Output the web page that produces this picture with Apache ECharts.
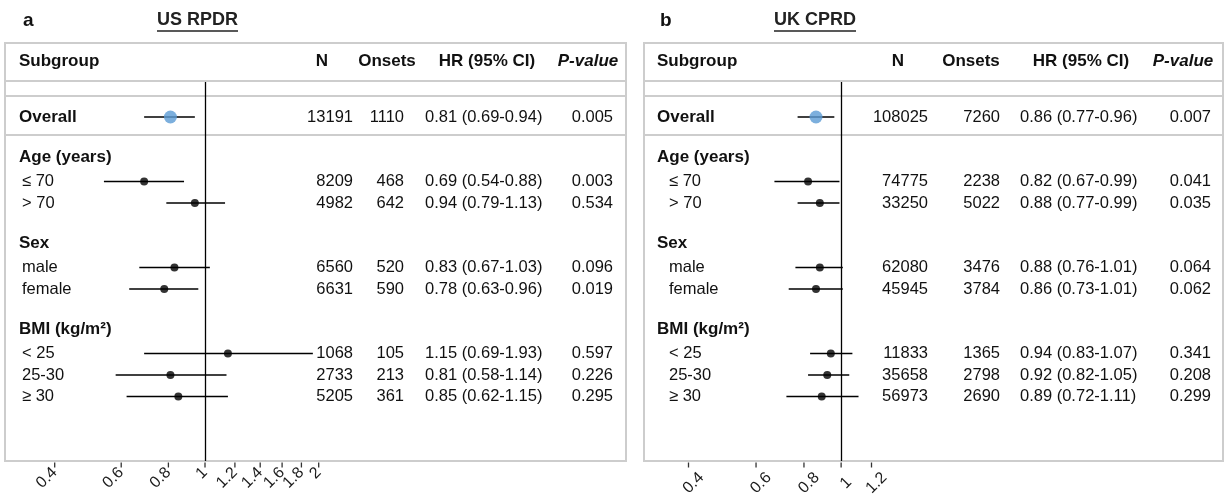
<!DOCTYPE html>
<html><head><meta charset="utf-8">
<script src="https://cdn.jsdelivr.net/npm/echarts@6/dist/echarts.min.js"></script>
<style>html,body{margin:0;padding:0;background:#fff}#c{width:1225px;height:497px}</style>
</head><body><div id="c"></div>
<script>
// ---------------- data ----------------
const subgroupLabels = ['Overall', '≤ 70', '> 70', 'male', 'female', '< 25', '25-30', '≥ 30'];
const subgroupGroup  = ['', 'Age (years)', 'Age (years)', 'Sex', 'Sex', 'BMI (kg/m²)', 'BMI (kg/m²)', 'BMI (kg/m²)'];
const columnHeaders  = ['Subgroup', 'N', 'Onsets', 'HR (95% CI)', 'P-value'];

const usTag = 'a';
const usTitle = 'US RPDR';
const usN      = [13191, 8209, 4982, 6560, 6631, 1068, 2733, 5205];
const usOnsets = [1110, 468, 642, 520, 590, 105, 213, 361];
const usHR     = [0.81, 0.69, 0.94, 0.83, 0.78, 1.15, 0.81, 0.85];
const usLo     = [0.69, 0.54, 0.79, 0.67, 0.63, 0.69, 0.58, 0.62];
const usHi     = [0.94, 0.88, 1.13, 1.03, 0.96, 1.93, 1.14, 1.15];
const usP      = ['0.005', '0.003', '0.534', '0.096', '0.019', '0.597', '0.226', '0.295'];
const usTicks  = [0.4, 0.6, 0.8, 1, 1.2, 1.4, 1.6, 1.8, 2];

const ukTag = 'b';
const ukTitle = 'UK CPRD';
const ukN      = [108025, 74775, 33250, 62080, 45945, 11833, 35658, 56973];
const ukOnsets = [7260, 2238, 5022, 3476, 3784, 1365, 2798, 2690];
const ukHR     = [0.86, 0.82, 0.88, 0.88, 0.86, 0.94, 0.92, 0.89];
const ukLo     = [0.77, 0.67, 0.77, 0.76, 0.73, 0.83, 0.82, 0.72];
const ukHi     = [0.96, 0.99, 0.99, 1.01, 1.01, 1.07, 1.05, 1.11];
const ukP      = ['0.007', '0.041', '0.035', '0.064', '0.062', '0.341', '0.208', '0.299'];
const ukTicks  = [0.4, 0.6, 0.8, 1, 1.2];

const refValue = 1;

// ---------------- layout / style ----------------
const FONT = "'Liberation Sans', Arial, Helvetica, sans-serif";
const TXT = '#111';
const GRID_LINE = '#cdcdcd';
const ROW_TOP = 106.25, ROW_H = 21.5, NROWS = 16, REF_TOP = 82;
const SEP_Y = [81, 96, 135];

const panels = [
  { tag: usTag, title: usTitle, N: usN, onsets: usOnsets, hr: usHR, lo: usLo, hi: usHi, p: usP,
    ticks: usTicks, min: 0.4, max: 2,
    box: {x: 5, y: 43, w: 621, h: 418}, tagX: 23, titleX: 157,
    forest: {left: 54.7, width: 264},
    cols: {label: 19, sub: 22, n: 353, onsets: 404, hr: 425, p: 613},
    head: {sub: 19, n: 322, onsets: 387, hr: 487, p: 588},
    tickLab: {dx: 0, dy: 9, align: 'right'} },
  { tag: ukTag, title: ukTitle, N: ukN, onsets: ukOnsets, hr: ukHR, lo: ukLo, hi: ukHi, p: ukP,
    ticks: ukTicks, min: 0.4, max: 1.2,
    box: {x: 644, y: 43, w: 579, h: 418}, tagX: 660, titleX: 774,
    forest: {left: 688.5, width: 183},
    cols: {label: 657, sub: 669, n: 928, onsets: 1000, hr: 1020, p: 1211},
    head: {sub: 657, n: 898, onsets: 971, hr: 1081, p: 1183},
    tickLab: {dx: 5, dy: 22, align: 'center'} }
];

// row structure (category index per row)
const rows = [];
subgroupLabels.forEach((lab, i) => {
  const g = subgroupGroup[i];
  if (g && subgroupGroup[i - 1] !== g) { rows.push({type: 'blank'}); rows.push({type: 'group', label: g}); }
  rows.push({type: 'item', label: lab, i: i, top: !g});
});
while (rows.length < NROWS) rows.push({type: 'blank'});
const rowIndexOf = [];
rows.forEach((r, k) => { r.k = k; if (r.type === 'item') rowIndexOf[r.i] = k; });
const rowNames = rows.map((r, k) => 'r' + k);
const textRows = rows.filter(r => r.type !== 'blank');

const measure = (() => { const c = document.createElement('canvas').getContext('2d');
  return (txt, font) => { c.font = font; return c.measureText(txt).width; }; })();

const grid = [], xAxis = [], yAxis = [], series = [], graphic = [];

panels.forEach((P, pi) => {
  const bottom = P.box.y + P.box.h;
  const g0 = grid.length;
  grid.push({left: P.forest.left, width: P.forest.width, top: REF_TOP, height: bottom - REF_TOP});
  xAxis.push({gridIndex: g0, type: 'log', logBase: 10, min: P.min, max: P.max, show: false});
  yAxis.push({gridIndex: g0, type: 'value', min: 0, max: 1, show: false});
  const g1 = grid.length;
  grid.push({left: P.forest.left, width: P.forest.width, top: ROW_TOP, height: NROWS * ROW_H});
  xAxis.push({gridIndex: g1, type: 'log', logBase: 10, min: P.min, max: P.max, show: false});
  yAxis.push({gridIndex: g1, type: 'category', data: rowNames, inverse: true, show: false});
  const g2 = grid.length;
  grid.push({left: P.box.x, width: P.box.w, top: ROW_TOP, height: NROWS * ROW_H});
  xAxis.push({gridIndex: g2, type: 'value', min: P.box.x, max: P.box.x + P.box.w, show: false});
  yAxis.push({gridIndex: g2, type: 'category', data: rowNames, inverse: true, show: false});

  // axis ticks + labels + reference line
  series.push({
    type: 'custom', xAxisIndex: g0, yAxisIndex: g0, clip: false, silent: true,
    data: P.ticks.map(v => [v, 0]),
    renderItem: (params, api) => {
      const pt = api.coord([api.value(0), 0]);
      return {type: 'group', children: [
        {type: 'line', shape: {x1: pt[0], y1: pt[1] + 1.5, x2: pt[0], y2: pt[1] + 6.5},
         style: {stroke: '#333', lineWidth: 1.3}},
        {type: 'text', x: pt[0] + P.tickLab.dx, y: pt[1] + P.tickLab.dy, rotation: Math.PI / 4,
         style: {text: String(P.ticks[params.dataIndex]), align: P.tickLab.align, verticalAlign: 'middle',
                 fill: '#1a1a1a', fontFamily: FONT, fontSize: 16}}
      ]};
    },
    markLine: {silent: true, symbol: ['none', 'none'], label: {show: false},
      lineStyle: {color: '#000', width: 1.3, type: 'solid'}, data: [{xAxis: refValue}]}
  });

  // CI lines
  series.push({
    type: 'custom', xAxisIndex: g1, yAxisIndex: g1, clip: false, silent: true, z: 3,
    data: P.hr.map((h, i) => [P.lo[i], P.hi[i], rowIndexOf[i]]),
    encode: {x: [0, 1], y: 2},
    renderItem: (params, api) => {
      const a = api.coord([api.value(0), api.value(2)]);
      const b = api.coord([api.value(1), api.value(2)]);
      return {type: 'line', shape: {x1: a[0], y1: a[1], x2: b[0], y2: b[1]},
              style: {stroke: '#000', lineWidth: 1.6}};
    }
  });
  // points
  series.push({
    type: 'scatter', xAxisIndex: g1, yAxisIndex: g1, silent: true, z: 4, symbolSize: 8,
    itemStyle: {color: '#000'},
    data: P.hr.map((h, i) => [h, rowIndexOf[i]]).filter((d, i) => i !== 0)
  });
  series.push({
    type: 'scatter', xAxisIndex: g1, yAxisIndex: g1, silent: true, z: 5, symbolSize: 13,
    itemStyle: {color: '#5b9bd5'},
    data: [[P.hr[0], rowIndexOf[0]]]
  });

  // table text
  series.push({
    type: 'custom', xAxisIndex: g2, yAxisIndex: g2, clip: false, silent: true, z: 6,
    data: textRows.map(r => [P.box.x, r.k]),
    encode: {x: 0, y: 1},
    renderItem: (params, api) => {
      const r = textRows[params.dataIndex];
      const y = api.coord([P.box.x, api.value(1)])[1];
      const X = v => api.coord([v, api.value(1)])[0];
      const t = (text, x, align, extra) => ({type: 'text', style: Object.assign(
        {text: text, x: X(x), y: y, align: align, verticalAlign: 'middle', fill: TXT,
         fontFamily: FONT, fontSize: 16.5}, extra || {})});
      const kids = [];
      if (r.type === 'group') {
        kids.push(t(r.label, P.cols.label, 'left', {fontWeight: 'bold', fontSize: 17, y: y - 3}));
      } else {
        const i = r.i;
        if (r.top) kids.push(t(r.label, P.cols.label, 'left', {fontWeight: 'bold', fontSize: 17}));
        else kids.push(t(r.label, P.cols.sub, 'left'));
        kids.push(t(String(P.N[i]), P.cols.n, 'right'));
        kids.push(t(String(P.onsets[i]), P.cols.onsets, 'right'));
        kids.push(t(P.hr[i].toFixed(2) + ' (' + P.lo[i].toFixed(2) + '-' + P.hi[i].toFixed(2) + ')', P.cols.hr, 'left'));
        kids.push(t(P.p[i], P.cols.p, 'right'));
      }
      return {type: 'group', children: kids};
    }
  });

  // frame, separators, titles, headers
  graphic.push({type: 'rect', z: 1, silent: true,
    shape: {x: P.box.x, y: P.box.y, width: P.box.w, height: P.box.h},
    style: {fill: 'none', stroke: GRID_LINE, lineWidth: 2}});
  SEP_Y.forEach(y => graphic.push({type: 'line', z: 1, silent: true,
    shape: {x1: P.box.x, y1: y, x2: P.box.x + P.box.w, y2: y},
    style: {stroke: GRID_LINE, lineWidth: 2}}));
  graphic.push({type: 'text', x: P.tagX, y: 21, silent: true,
    style: {text: P.tag, align: 'left', verticalAlign: 'middle', fill: TXT, fontFamily: FONT, fontSize: 19, fontWeight: 'bold'}});
  graphic.push({type: 'text', x: P.titleX, y: 20, silent: true,
    style: {text: P.title, align: 'left', verticalAlign: 'middle', fill: '#222', fontFamily: FONT, fontSize: 18, fontWeight: 'bold'}});
  const tw = measure(P.title, 'bold 18px ' + FONT);
  graphic.push({type: 'line', silent: true, shape: {x1: P.titleX, y1: 31, x2: P.titleX + tw, y2: 31},
    style: {stroke: '#222', lineWidth: 1.5}});
  const hs = {fill: TXT, fontFamily: FONT, fontSize: 17, fontWeight: 'bold', verticalAlign: 'middle'};
  const hx = [P.head.sub, P.head.n, P.head.onsets, P.head.hr, P.head.p];
  columnHeaders.forEach((h, k) => graphic.push({type: 'text', x: hx[k], y: 61, silent: true,
    style: Object.assign({}, hs, {text: h, align: k === 0 ? 'left' : 'center',
      fontStyle: k === 4 ? 'italic' : 'normal'})}));
});

const chart = echarts.init(document.getElementById('c'), null, {renderer: 'canvas'});
chart.setOption({animation: false, backgroundColor: '#fff', grid, xAxis, yAxis, series, graphic});
</script></body></html>
